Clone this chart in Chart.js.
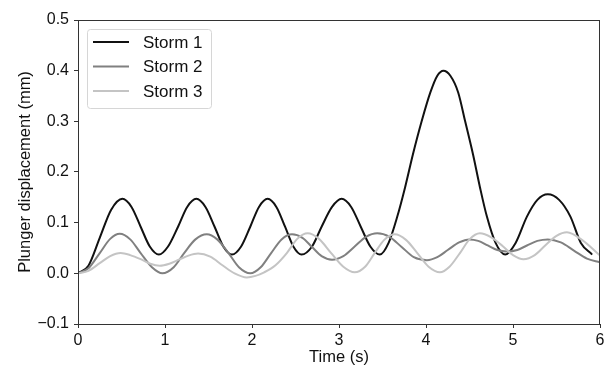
<!DOCTYPE html>
<html>
<head>
<meta charset="utf-8">
<script src="https://cdn.jsdelivr.net/npm/chart.js@4/dist/chart.umd.min.js"></script>
<style>
  html, body { margin: 0; padding: 0; background: #fff; }
  #wrap { width: 610px; height: 370px; }
</style>
</head>
<body>
<div id="wrap"><canvas id="chart" width="610" height="370"></canvas></div>
<script>
// values (time in s, displacement in mm)
const storm1T = [0, 0.12, 0.25, 0.38, 0.51, 0.615, 0.72, 0.825, 0.93, 1.035, 1.15, 1.255, 1.36, 1.465, 1.57, 1.67, 1.77, 1.875, 1.98, 2.08, 2.18, 2.28, 2.38, 2.475, 2.57, 2.69, 2.8, 2.92, 3.03, 3.14, 3.25, 3.36, 3.47, 3.57, 3.67, 3.76, 3.85, 3.95, 4.05, 4.13, 4.2, 4.28, 4.37, 4.45, 4.54, 4.62, 4.7, 4.8, 4.91, 5.03, 5.16, 5.28, 5.4, 5.53, 5.66, 5.78, 5.91];
const storm1Y = [0, 0.015, 0.07, 0.125, 0.147, 0.131, 0.092, 0.053, 0.037, 0.053, 0.092, 0.131, 0.147, 0.131, 0.092, 0.053, 0.037, 0.053, 0.092, 0.131, 0.147, 0.131, 0.092, 0.053, 0.037, 0.053, 0.092, 0.131, 0.147, 0.131, 0.092, 0.053, 0.037, 0.06, 0.112, 0.17, 0.235, 0.3, 0.357, 0.39, 0.4, 0.39, 0.357, 0.3, 0.235, 0.17, 0.112, 0.06, 0.037, 0.06, 0.112, 0.145, 0.156, 0.145, 0.112, 0.06, 0.037];

const storm2T = [0, 0.12, 0.25, 0.37, 0.48, 0.6, 0.72, 0.85, 0.97, 1.1, 1.22, 1.35, 1.48, 1.6, 1.73, 1.85, 1.98, 2.1, 2.22, 2.34, 2.46, 2.58, 2.69, 2.8, 2.92, 3.05, 3.18, 3.31, 3.44, 3.58, 3.72, 3.86, 4.01, 4.13, 4.25, 4.38, 4.5, 4.6, 4.71, 4.82, 4.93, 5.05, 5.16, 5.28, 5.4, 5.55, 5.7, 5.85, 6.0];
const storm2Y = [0, 0.01, 0.04, 0.068, 0.078, 0.067, 0.04, 0.012, 0.0, 0.012, 0.04, 0.067, 0.077, 0.067, 0.04, 0.012, 0.0, 0.012, 0.04, 0.067, 0.077, 0.07, 0.052, 0.034, 0.027, 0.034, 0.053, 0.072, 0.079, 0.072, 0.052, 0.032, 0.026, 0.032, 0.046, 0.061, 0.067, 0.064, 0.055, 0.046, 0.043, 0.046, 0.055, 0.064, 0.067, 0.061, 0.045, 0.029, 0.022];

const storm3T = [0, 0.12, 0.25, 0.37, 0.49, 0.6, 0.72, 0.83, 0.94, 1.05, 1.16, 1.27, 1.38, 1.52, 1.66, 1.8, 1.94, 2.04, 2.14, 2.27, 2.4, 2.52, 2.64, 2.77, 2.91, 3.05, 3.18, 3.3, 3.41, 3.52, 3.64, 3.77, 3.9, 4.03, 4.16, 4.27, 4.39, 4.5, 4.62, 4.75, 4.88, 5.0, 5.12, 5.25, 5.37, 5.5, 5.62, 5.8, 6.0];
const storm3Y = [0, 0.005, 0.02, 0.034, 0.04, 0.036, 0.028, 0.019, 0.015, 0.019, 0.027, 0.035, 0.039, 0.033, 0.016, 0.0, -0.008, -0.005, 0.002, 0.016, 0.04, 0.068, 0.079, 0.068, 0.04, 0.013, 0.002, 0.013, 0.04, 0.066, 0.077, 0.066, 0.04, 0.013, 0.002, 0.013, 0.04, 0.067, 0.079, 0.071, 0.054, 0.036, 0.028, 0.036, 0.055, 0.074, 0.081, 0.065, 0.035];

const seriesNames = ['Storm 1', 'Storm 2', 'Storm 3'];
const seriesColors = ['#111111', '#808080', '#c4c4c4'];
const xTicks = [0, 1, 2, 3, 4, 5, 6];
const yTicks = [-0.1, 0.0, 0.1, 0.2, 0.3, 0.4, 0.5];

const FONT = '"Liberation Sans", Arial, sans-serif';

function pts(ts, ys) { return ts.map((t, i) => ({ x: t, y: ys[i] })); }

// box around the plot + legend in the top-left corner, matplotlib style
const frameAndLegend = {
  id: 'frameAndLegend',
  afterDraw(chart) {
    const { ctx, chartArea: a } = chart;
    ctx.save();
    ctx.strokeStyle = '#333';
    ctx.lineWidth = 1;
    ctx.strokeRect(a.left + 0.5, a.top + 0.5, a.right - a.left - 1, a.bottom - a.top);

    const bx = 87, by = 29, bw = 124, bh = 79;
    ctx.beginPath();
    ctx.roundRect(bx + 0.5, by + 0.5, bw, bh, 3);
    ctx.fillStyle = 'rgba(255,255,255,0.8)';
    ctx.fill();
    ctx.strokeStyle = '#d6d6d6';
    ctx.stroke();

    ctx.font = '17px ' + FONT;
    ctx.textBaseline = 'middle';
    chart.data.datasets.forEach((ds, i) => {
      const y = 42 + i * 24.5;
      ctx.strokeStyle = ds.borderColor;
      ctx.lineWidth = 2;
      ctx.beginPath();
      ctx.moveTo(93, y);
      ctx.lineTo(129, y);
      ctx.stroke();
      ctx.fillStyle = '#111';
      ctx.fillText(ds.label, 143, y + 1);
    });
    ctx.restore();
  }
};

new Chart(document.getElementById('chart'), {
  type: 'line',
  data: {
    datasets: [
      { label: seriesNames[0], data: pts(storm1T, storm1Y), order: 3 },
      { label: seriesNames[1], data: pts(storm2T, storm2Y), order: 2 },
      { label: seriesNames[2], data: pts(storm3T, storm3Y), order: 1 },
    ].map((d, i) => Object.assign(d, {
      borderColor: seriesColors[i],
      borderWidth: 2,
      pointRadius: 0,
      fill: false,
      cubicInterpolationMode: 'monotone',
    })),
  },
  options: {
    responsive: false,
    animation: false,
    layout: { padding: { top: 20, right: 10, left: 0, bottom: 0 } },
    plugins: { legend: { display: false }, tooltip: { enabled: false } },
    scales: {
      x: {
        type: 'linear',
        min: 0, max: 6,
        afterBuildTicks: s => { s.ticks = xTicks.map(v => ({ value: v })); },
        afterFit: s => { s.height = 46; },
        grid: { drawOnChartArea: false, drawTicks: true, tickLength: 4, color: '#333' },
        border: { color: '#333', width: 1 },
        ticks: { color: '#111', font: { family: FONT, size: 16 }, padding: 3, maxRotation: 0 },
        title: { display: true, text: 'Time (s)', color: '#111', font: { family: FONT, size: 16.5 }, padding: { top: 0, bottom: 3 } },
      },
      y: {
        min: -0.1, max: 0.5,
        afterBuildTicks: s => { s.ticks = yTicks.map(v => ({ value: v })); },
        afterFit: s => { s.width = 78; },
        grid: { drawOnChartArea: false, drawTicks: true, tickLength: 4, color: '#333' },
        border: { color: '#333', width: 1 },
        ticks: {
          color: '#111', font: { family: FONT, size: 16 }, padding: 5,
          callback: v => v.toFixed(1).replace('-', '\u2212'),
        },
        title: { display: true, text: 'Plunger displacement (mm)', color: '#111', font: { family: FONT, size: 16.5 }, padding: { top: 16, bottom: 0 } },
      },
    },
  },
  plugins: [frameAndLegend],
});
</script>
</body>
</html>
